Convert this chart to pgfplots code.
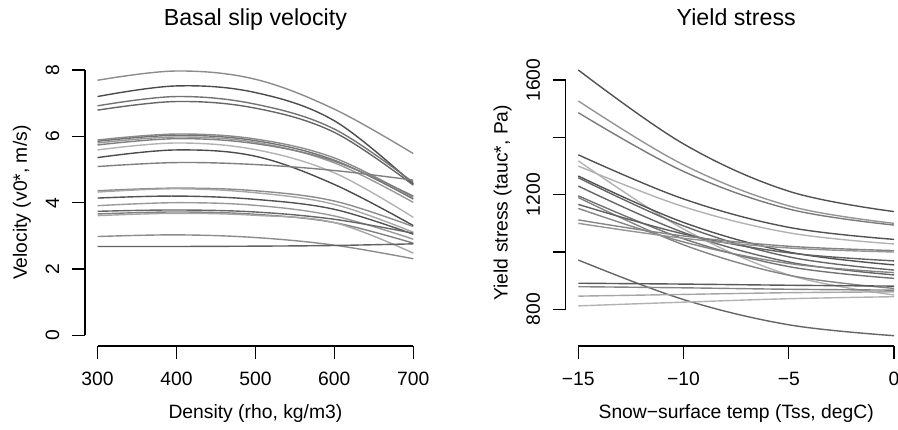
\documentclass[border=0pt]{standalone}
\usepackage{fontspec}
\setmainfont{Liberation Sans}
\usepackage{pgfplots}
\pgfplotsset{compat=1.18}

% R base-graphics look: open axes, outside ticks, rotated y labels
\pgfplotsset{
  rpanel/.style={
    scale only axis, width=170.5pt, height=143.3pt,
    anchor=south west,
    axis line style={draw=none},
    tick pos=left, tick align=outside,
    major tick length=6.5pt,
    every tick/.style={black, line width=0.6pt},
    /pgf/number format/assume math mode=true,
    tick label style={font=\fontsize{9.65}{11}\selectfont},
    xticklabel style={anchor=base},
    yticklabel style={rotate=90, anchor=base},
    xticklabel shift=13.25pt,
    yticklabel shift=6.4pt,
    label style={font=\fontsize{9.65}{11}\selectfont},
    xlabel style={at={(axis description cs:0.5,0)}, anchor=base, yshift=-36pt},
    ylabel style={at={(axis description cs:-0.1701,0.5)}, anchor=base},
    title style={font=\fontsize{11.6}{13}\selectfont, at={(axis description cs:0.5,1)}, anchor=base, yshift=11pt},
    every axis plot/.append style={line width=0.7pt, smooth, tension=0.6, no markers},
    clip=false,
  }
}

\begin{document}
\begin{tikzpicture}
\begin{axis}[rpanel,
    at={(42.45pt,41.5pt)},
    xmin=284, xmax=716, ymin=-0.32, ymax=8.32,
    xtick={300,400,500,600,700}, ytick={0,2,4,6,8},
    title={Basal slip velocity},
    xlabel={Density (rho, kg/m3)},
    ylabel={Velocity (v0*, m/s)},
  ]
  \draw[line width=0.6pt] (axis cs:300,-0.32) -- (axis cs:700,-0.32);
  \draw[line width=0.6pt] (axis cs:284,0) -- (axis cs:284,8);
  \addplot[black!45] coordinates {(300,7.69)(400,7.97)(500,7.72)(600,6.82)(700,5.48)};
  \addplot[black!70] coordinates {(300,7.20)(400,7.52)(500,7.32)(600,6.47)(700,4.56)};
  \addplot[black!55] coordinates {(300,6.92)(400,7.20)(500,6.97)(600,6.22)(700,4.61)};
  \addplot[black!60] coordinates {(300,6.79)(400,7.05)(500,6.85)(600,6.12)(700,4.53)};
  \addplot[black!45] coordinates {(300,5.89)(400,6.07)(500,5.92)(600,5.35)(700,4.16)};
  \addplot[black!55] coordinates {(300,5.85)(400,6.03)(500,5.87)(600,5.28)(700,4.11)};
  \addplot[black!40] coordinates {(300,5.80)(400,5.98)(500,5.82)(600,5.20)(700,4.01)};
  \addplot[black!50] coordinates {(300,5.74)(400,5.93)(500,5.78)(600,5.25)(700,4.20)};
  \addplot[black!30] coordinates {(300,5.59)(400,5.80)(500,5.60)(600,4.90)(700,3.56)};
  \addplot[black!70] coordinates {(300,5.36)(400,5.59)(500,5.40)(600,4.55)(700,3.31)};
  \addplot[black!50] coordinates {(300,5.09)(400,5.21)(500,5.15)(600,4.97)(700,4.68)};
  \addplot[black!45] coordinates {(300,4.36)(400,4.44)(500,4.36)(600,4.05)(700,3.28)};
  \addplot[black!35] coordinates {(300,4.32)(400,4.42)(500,4.30)(600,3.95)(700,3.11)};
  \addplot[black!68] coordinates {(300,4.14)(400,4.20)(500,4.10)(600,3.80)(700,3.05)};
  \addplot[black!40] coordinates {(300,3.91)(400,4.00)(500,3.92)(600,3.60)(700,2.90)};
  \addplot[black!60] coordinates {(300,3.74)(400,3.78)(500,3.72)(600,3.50)(700,3.08)};
  \addplot[black!50] coordinates {(300,3.66)(400,3.72)(500,3.65)(600,3.40)(700,2.78)};
  \addplot[black!35] coordinates {(300,3.61)(400,3.68)(500,3.62)(600,3.40)(700,2.48)};
  \addplot[black!45] coordinates {(300,2.98)(400,3.03)(500,2.95)(600,2.72)(700,2.31)};
  \addplot[black!62] coordinates {(300,2.68)(400,2.68)(500,2.69)(600,2.71)(700,2.76)};
\end{axis}

\begin{axis}[rpanel,
    at={(282.85pt,41.5pt)},
    xmin=-15.6, xmax=0.6, ymin=672, ymax=1672,
    xtick={-15,-10,-5,0}, xticklabels={−15,−10,−5,0},
    ytick={800,1000,1200,1400,1600}, yticklabels={800,,1200,,1600},
    title={Yield stress},
    xlabel={Snow−surface temp (Tss, degC)},
    ylabel={Yield stress (tauc*, Pa)},
  ]
  \draw[line width=0.6pt] (axis cs:-15,672) -- (axis cs:0,672);
  \draw[line width=0.6pt] (axis cs:-15.6,800) -- (axis cs:-15.6,1600);
  \addplot[black!68] coordinates {(-15,1635)(-10,1377)(-5,1212)(0,1141)};
  \addplot[black!42] coordinates {(-15,1527)(-10,1304)(-5,1161)(0,1100)};
  \addplot[black!52] coordinates {(-15,1486)(-10,1281)(-5,1150)(0,1094)};
  \addplot[black!68] coordinates {(-15,1339)(-10,1185)(-5,1086)(0,1044)};
  \addplot[black!30] coordinates {(-15,1318)(-10,1080)(-5,920)(0,850)};
  \addplot[black!30] coordinates {(-15,1300)(-10,1158)(-5,1067)(0,1028)};
  \addplot[black!68] coordinates {(-15,1265)(-10,1103)(-5,1000)(0,955)};
  \addplot[black!60] coordinates {(-15,1259)(-10,1091)(-5,983)(0,937)};
  \addplot[black!60] coordinates {(-15,1230)(-10,1068)(-5,965)(0,920)};
  \addplot[black!55] coordinates {(-15,1196)(-10,1046)(-5,949)(0,908)};
  \addplot[black!48] coordinates {(-15,1190)(-10,1025)(-5,919)(0,873)};
  \addplot[black!62] coordinates {(-15,1166)(-10,1063)(-5,997)(0,969)};
  \addplot[black!48] coordinates {(-15,1152)(-10,1035)(-5,960)(0,928)};
  \addplot[black!48] coordinates {(-15,1112)(-10,1056)(-5,1020)(0,1005)};
  \addplot[black!42] coordinates {(-15,1100)(-10,1048)(-5,1014)(0,1000)};
  \addplot[black!60] coordinates {(-15,972)(-10,834)(-5,746)(0,708)};
  \addplot[black!65] coordinates {(-15,891)(-10,888)(-5,884)(0,881)};
  \addplot[black!48] coordinates {(-15,879)(-10,875)(-5,870)(0,867)};
  \addplot[black!35] coordinates {(-15,846)(-10,852)(-5,858)(0,861)};
  \addplot[black!30] coordinates {(-15,812)(-10,825)(-5,837)(0,844)};
\end{axis}
\pgfresetboundingbox
\path[use as bounding box] (0,0) rectangle (449pt,214.5pt);
\end{tikzpicture}
\end{document}
